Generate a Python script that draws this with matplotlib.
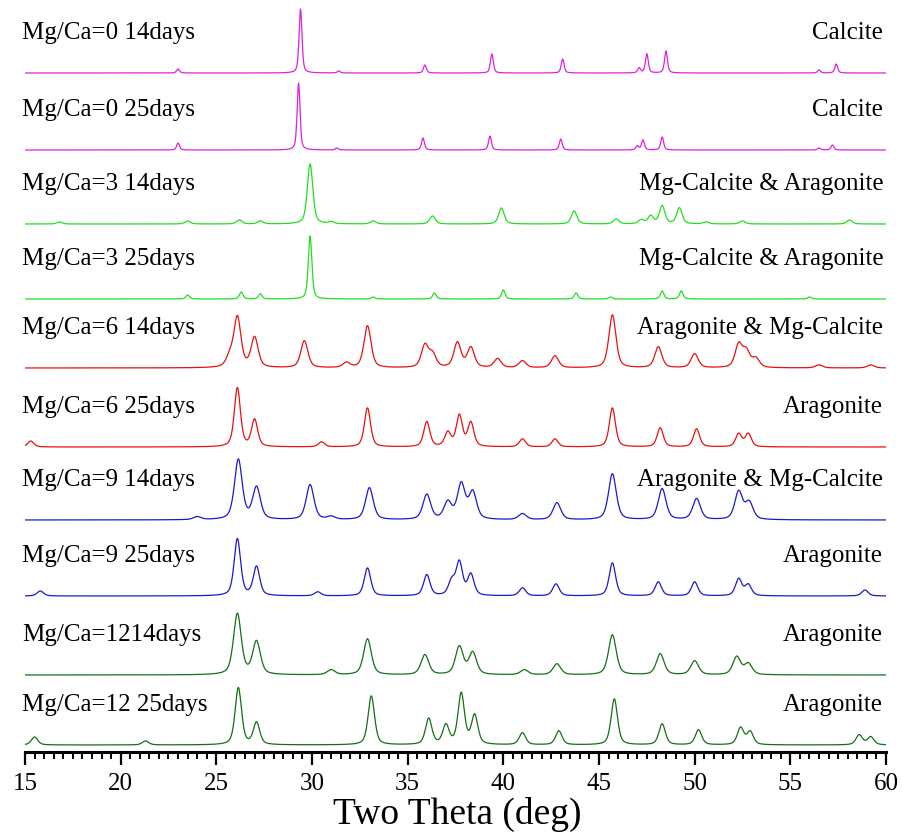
import numpy as np
import matplotlib
matplotlib.use("Agg")
import matplotlib.pyplot as plt
from matplotlib.ticker import MultipleLocator

# peak positions (2theta, deg) and heights (arb. units), top to bottom
mg0_14_pos = [23.0, 29.4, 31.4, 35.9, 39.4, 43.1, 47.1, 47.5, 48.5, 56.5, 57.4]
mg0_14_hgt = [4, 64, 2, 8, 19, 14, 5, 19, 22, 3, 9]
mg0_25_pos = [23.0, 29.3, 31.3, 35.8, 39.3, 43.0, 47.0, 47.3, 48.3, 56.5, 57.2]
mg0_25_hgt = [7, 67, 2, 12, 14, 11, 4, 10, 13, 2, 5]
mg3_14_pos = [16.8, 23.5, 26.2, 27.3, 29.9, 31.0, 33.2, 36.3, 39.9, 43.7, 45.9,
              47.2, 47.7, 48.3, 49.2, 50.6, 52.5, 58.1]
mg3_14_hgt = [2, 3, 4, 3, 60, 2, 3, 8, 16, 13, 5, 4, 8, 18, 16, 2, 3, 4]
mg3_25_pos = [23.5, 26.3, 27.3, 29.9, 33.2, 36.4, 40.0, 43.8, 45.6, 48.3, 49.3, 56.0]
mg3_25_hgt = [4, 7, 5, 63, 2, 6, 9, 6, 2, 8, 8, 2]
mg6_14_pos = [25.7, 26.1, 27.0, 29.6, 31.8, 32.9, 35.9, 36.3, 37.6, 38.3, 39.7,
              41.0, 42.7, 45.7, 48.1, 50.0, 52.3, 52.7, 53.2, 56.5, 59.2]
mg6_14_hgt = [10, 50, 30, 27, 5, 42, 22, 13, 25, 20, 9, 7, 12, 53, 21, 14, 23, 16, 9, 3, 3]
mg6_25_pos = [15.3, 26.1, 27.0, 30.5, 32.9, 36.0, 37.1, 37.7, 38.3, 41.0, 42.7,
              45.7, 48.2, 50.1, 52.3, 52.8]
mg6_25_hgt = [6, 59, 27, 5, 39, 25, 14, 31, 24, 8, 8, 39, 19, 18, 13, 13]
mg9_14_pos = [24.0, 26.15, 27.1, 29.9, 31.0, 33.0, 36.0, 37.1, 37.8, 38.4, 41.0,
              42.8, 45.7, 48.3, 50.1, 52.3, 52.85]
mg9_14_hgt = [3, 60, 32, 35, 3, 32, 25, 17, 35, 27, 6, 17, 46, 31, 21, 28, 17]
mg9_25_pos = [15.8, 26.1, 27.1, 30.3, 32.9, 36.0, 37.3, 37.7, 38.3, 41.0, 42.75,
              45.7, 48.1, 50.0, 52.3, 52.8, 58.9]
mg9_25_hgt = [5, 57, 29, 4, 28, 21, 14, 33, 21, 8, 12, 33, 14, 14, 17, 11, 6]
mg12_14_pos = [26.1, 27.1, 31.0, 32.9, 35.9, 37.7, 38.4, 41.1, 42.8, 45.7, 48.2,
               50.0, 52.2, 52.8]
mg12_14_hgt = [61, 33, 5, 36, 20, 28, 22, 5, 11, 40, 21, 14, 18, 11]
mg12_25_pos = [15.5, 21.3, 26.15, 27.1, 33.1, 36.1, 37.0, 37.8, 38.5, 41.0, 42.9,
               45.8, 48.3, 50.2, 52.4, 52.9, 58.6, 59.2]
mg12_25_hgt = [8, 4, 57, 22, 49, 26, 19, 51, 29, 12, 14, 46, 21, 15, 17, 13, 10, 8]

# half widths of the peaks for each pattern (deg)
peak_hw = [0.09, 0.09, 0.17, 0.11, 0.22, 0.19, 0.24, 0.2, 0.24, 0.2]

left_labels = ["Mg/Ca=0 14days", "Mg/Ca=0 25days", "Mg/Ca=3 14days", "Mg/Ca=3 25days",
               "Mg/Ca=6 14days", "Mg/Ca=6 25days", "Mg/Ca=9 14days", "Mg/Ca=9 25days",
               "Mg/Ca=1214days", "Mg/Ca=12 25days"]
right_labels = ["Calcite", "Calcite", "Mg-Calcite & Aragonite", "Mg-Calcite & Aragonite",
                "Aragonite & Mg-Calcite", "Aragonite", "Aragonite & Mg-Calcite", "Aragonite",
                "Aragonite", "Aragonite"]

positions = [mg0_14_pos, mg0_25_pos, mg3_14_pos, mg3_25_pos, mg6_14_pos,
             mg6_25_pos, mg9_14_pos, mg9_25_pos, mg12_14_pos, mg12_25_pos]
heights = [mg0_14_hgt, mg0_25_hgt, mg3_14_hgt, mg3_25_hgt, mg6_14_hgt,
           mg6_25_hgt, mg9_14_hgt, mg9_25_hgt, mg12_14_hgt, mg12_25_hgt]

# vertical stacking of the patterns
offsets = [679, 602, 528, 453, 384, 305, 232, 156, 77, 7]
colors = ["#dd22dd", "#dd22dd", "#22dd22", "#22dd22", "#e81010",
          "#e81010", "#1a1acc", "#1a1acc", "#157015", "#157015"]

plt.rcParams['font.family'] = ['Liberation Serif', 'DejaVu Serif']

two_theta = np.linspace(15, 60, 2251)


def pattern(pos, hgt, hw):
    # pseudo-Voigt peaks summed on a flat baseline
    y = np.zeros_like(two_theta)
    for c, h in zip(pos, hgt):
        d = (two_theta - c) / hw
        y += h * (0.5 / (1 + d ** 2) + 0.5 * np.exp(-np.log(2) * d ** 2))
    return y


fig = plt.figure(figsize=(9.02, 8.34), dpi=100)
ax = fig.add_axes([25 / 902, 82 / 834, 861 / 902, 752 / 834])

for i in range(len(positions)):
    y = pattern(positions[i], heights[i], peak_hw[i]) + offsets[i]
    ax.plot(two_theta, y, color=colors[i], lw=0.9)
    ax.text(14.85, offsets[i] + 40, left_labels[i], fontsize=18,
            ha='left', va='center', clip_on=False)
    ax.text(59.85, offsets[i] + 40, right_labels[i], fontsize=18,
            ha='right', va='center', clip_on=False)

ax.set_xlim(15, 60)
ax.set_ylim(0, 752)
for s in ['top', 'left', 'right']:
    ax.spines[s].set_visible(False)
ax.spines['bottom'].set_linewidth(2.2)
ax.set_yticks([])
ax.xaxis.set_major_locator(MultipleLocator(5))
ax.xaxis.set_minor_locator(MultipleLocator(0.5))
ax.tick_params(axis='x', which='major', direction='out', length=9, width=1.6,
               labelsize=18, pad=6)
ax.tick_params(axis='x', which='minor', direction='out', length=5, width=1.4)

fig.text(457 / 902, 10 / 834, "Two Theta (deg)", fontsize=27, ha='center', va='baseline')

fig.savefig("out.png", dpi=100)
